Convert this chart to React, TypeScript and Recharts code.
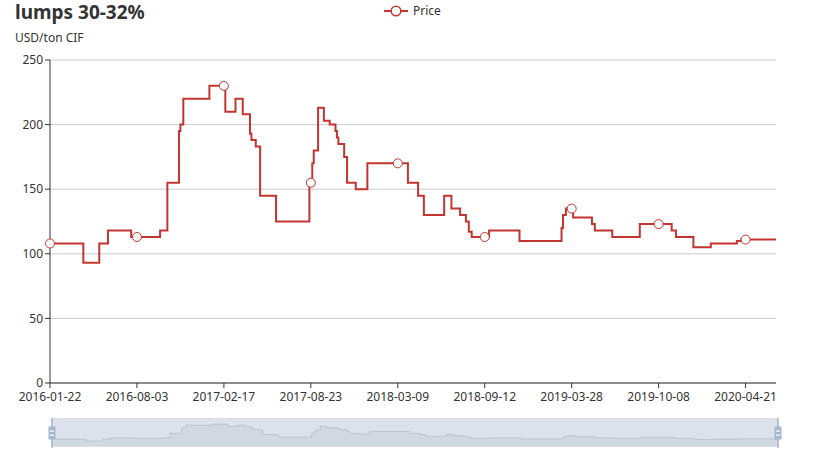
import React from "react";
import { LineChart, Line, XAxis, YAxis, CartesianGrid, AreaChart, Area } from "recharts";

// x positions are week indices of the category axis (one label every 60)
const tickIdx = [0, 60, 120, 180, 240, 300, 360, 420, 480];
const tickLabels = [
  "2016-01-22",
  "2016-08-03",
  "2017-02-17",
  "2017-08-23",
  "2018-03-09",
  "2018-09-12",
  "2019-03-28",
  "2019-10-08",
  "2020-04-21",
];
const lastIdx = 501;

// points where the price changes (step after) and the new price
const changeIdx = [
  0, 23, 34, 40, 56, 76, 81, 89, 90, 92, 110, 121, 128, 133, 138, 139, 142, 145, 156, 179, 181, 182, 185,
  189, 193, 197, 198, 199, 203, 205, 211, 219, 247, 254, 258, 272, 277, 283, 287, 289, 291, 303, 324, 353,
  354, 356, 361, 374, 376, 388, 407, 429, 432, 444, 456, 474, 477, 501,
];
const changePrice = [
  108, 93, 108, 118, 113, 118, 155, 195, 200, 220, 230, 210, 220, 208, 193, 188, 183, 145, 125, 155, 170,
  180, 213, 203, 200, 195, 190, 185, 175, 155, 150, 170, 155, 145, 130, 145, 135, 130, 125, 117, 113, 118,
  110, 120, 130, 135, 128, 123, 118, 113, 123, 118, 113, 105, 108, 110, 111, 111,
];

// symbols shown at the labelled categories
const markerPrice = [108, 113, 230, 155, 170, 113, 135, 123, 111];

const yTicks = [0, 50, 100, 150, 200, 250];

const RED = "#c23531";

type Row = { idx: number; price: number; marker?: boolean };

const byIdx = new Map<number, Row>();
changeIdx.forEach((idx, i) => byIdx.set(idx, { idx, price: changePrice[i] }));
tickIdx.forEach((idx, i) => byIdx.set(idx, { idx, price: markerPrice[i], marker: true }));
const rows: Row[] = Array.from(byIdx.values()).sort((a, b) => a.idx - b.idx);

// data shadow range of the slider (30% padding like echarts)
const pMin = Math.min(...changePrice);
const pMax = Math.max(...changePrice);
const pad = (pMax - pMin) * 0.3;

const renderDot = (p: any) =>
  p.payload.marker ? (
    <circle key={p.index} cx={p.cx} cy={p.cy} r={4.5} fill="#fff" stroke={RED} strokeWidth={1} />
  ) : (
    <g key={p.index} />
  );

function Handle({ left }: { left: number }) {
  return (
    <svg width={10} height={30} style={{ position: "absolute", left: left - 5, top: 418 }}>
      <line x1={5} x2={5} y1={0} y2={30} stroke="#a7b7cc" strokeWidth={1.6} />
      <rect x={1.5} y={8.5} width={7} height={13} fill="#a7b7cc" />
      <rect x={3} y={12.5} width={4} height={1.2} fill="#fff" />
      <rect x={3} y={16.5} width={4} height={1.2} fill="#fff" />
    </svg>
  );
}

export default function App() {
  return (
    <div
      style={{
        position: "absolute",
        left: 0,
        top: 0,
        width: 826,
        height: 455,
        background: "#fff",
        fontFamily: "'Noto Sans', sans-serif",
      }}
    >
      <svg width={826} height={50} style={{ position: "absolute", left: 0, top: 0 }}>
        <text x={15} y={19} fontSize={19} fontWeight="bold" fill="#333">
          lumps 30-32%
        </text>
        <text x={15} y={41.5} fontSize={12} fill="#333">
          USD/ton CIF
        </text>
        {/* legend */}
        <line x1={384} x2={408} y1={11} y2={11} stroke={RED} strokeWidth={2} />
        <circle cx={396} cy={11} r={4.8} fill="#fff" stroke={RED} strokeWidth={1.5} />
        <text x={413} y={15} fontSize={12} fill="#333">
          Price
        </text>
      </svg>

      <div style={{ position: "absolute", left: 0, top: 0 }}>
        <LineChart width={826} height={420} data={rows} margin={{ top: 60, right: 50, left: 10, bottom: 7 }}>
          <CartesianGrid vertical={false} stroke="#ccc" />
          <XAxis
            type="number"
            dataKey="idx"
            domain={[0, lastIdx]}
            ticks={tickIdx}
            interval={0}
            height={30}
            tickMargin={4}
            tickFormatter={(v: number) => tickLabels[tickIdx.indexOf(v)] ?? ""}
            axisLine={{ stroke: "#333" }}
            tickLine={{ stroke: "#333" }}
            tickSize={5}
            tick={{ fill: "#333", fontSize: 12 }}
          />
          <YAxis
            type="number"
            domain={[0, 250]}
            ticks={yTicks}
            interval={0}
            width={40}
            axisLine={{ stroke: "#333" }}
            tickLine={{ stroke: "#333" }}
            tickSize={5}
            tick={{ fill: "#333", fontSize: 12 }}
          />
          <Line
            type="stepAfter"
            dataKey="price"
            stroke={RED}
            strokeWidth={2}
            dot={renderDot}
            activeDot={false}
            isAnimationActive={false}
          />
        </LineChart>
      </div>

      {/* data zoom slider */}
      <div
        style={{
          position: "absolute",
          left: 52,
          top: 418,
          width: 726,
          height: 29,
          boxSizing: "border-box",
          border: "1px solid #ddd",
          background: "#dce2eb",
        }}
      >
        <AreaChart width={724} height={27} data={rows} margin={{ top: 0, right: 0, left: 0, bottom: 0 }}>
          <XAxis type="number" dataKey="idx" domain={[0, lastIdx]} allowDataOverflow hide />
          <YAxis type="number" domain={[pMin - pad, pMax + pad]} allowDataOverflow hide />
          <Area
            type="stepAfter"
            dataKey="price"
            fill="#d0d8e2"
            fillOpacity={1}
            stroke="#2f4554"
            strokeOpacity={0.3}
            strokeWidth={0.5}
            dot={false}
            activeDot={false}
            isAnimationActive={false}
          />
        </AreaChart>
      </div>
      <Handle left={52} />
      <Handle left={778} />
    </div>
  );
}
